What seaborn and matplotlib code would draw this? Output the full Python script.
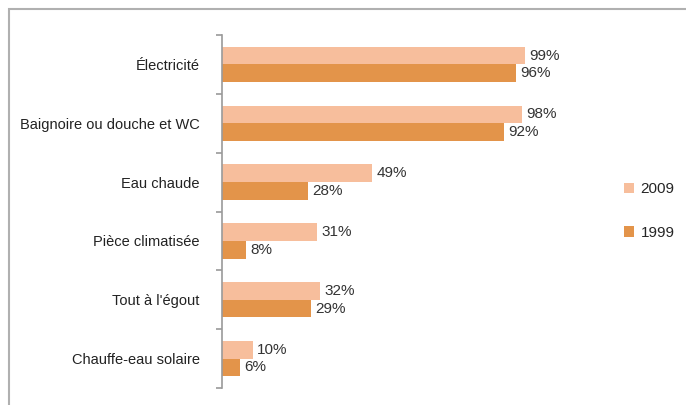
import pandas as pd
import seaborn as sns
import matplotlib.pyplot as plt
from matplotlib.patches import Rectangle, Patch
from matplotlib.ticker import FixedLocator

# --- Données ---
categories = ["Électricité", "Baignoire ou douche et WC", "Eau chaude",
              "Pièce climatisée", "Tout à l'égout", "Chauffe-eau solaire"]
valeurs_2009 = [99, 98, 49, 31, 32, 10]
valeurs_1999 = [96, 92, 28, 8, 29, 6]
annees = ["2009", "1999"]
couleurs = ["#F7BE9C", "#E3944A"]

df = pd.DataFrame({
    "categorie": categories * 2,
    "annee": ["2009"] * len(categories) + ["1999"] * len(categories),
    "valeur": valeurs_2009 + valeurs_1999,
})

sns.set_style("white")
plt.rcParams["font.family"] = ["Liberation Sans", "DejaVu Sans"]

fig = plt.figure(figsize=(6.86, 4.05), dpi=100)
ax = fig.add_axes([222 / 686, 1 - 388 / 405, (620 - 222) / 686, (388 - 35) / 405])

sns.barplot(data=df, y="categorie", x="valeur", hue="annee", hue_order=annees,
            order=categories, palette=couleurs, orient="h", width=0.6,
            saturation=1, linewidth=0, ax=ax, legend=False)

for cont in ax.containers:
    ax.bar_label(cont, fmt="%d%%", padding=3, fontsize=11, color="#333333")

ax.set_xlim(0, 130)
ax.set_ylim(len(categories) - 0.5, -0.5)
ax.set_xlabel("")
ax.set_ylabel("")
ax.set_xticks([])
for s in ["top", "right", "bottom"]:
    ax.spines[s].set_visible(False)
ax.spines["left"].set_color("#9a9a9a")
ax.spines["left"].set_linewidth(1.2)
ax.tick_params(axis="y", which="major", length=0, pad=16, labelsize=10.5,
               labelcolor="#222222")
ax.yaxis.set_minor_locator(FixedLocator([i - 0.5 for i in range(len(categories) + 1)]))
ax.tick_params(axis="y", which="minor", length=4, width=1.2, color="#9a9a9a", left=True)

# --- Légende ---
handles = [Patch(facecolor=c, edgecolor="none") for c in couleurs]
fig.legend(handles, annees, loc="center left", bbox_to_anchor=(610 / 686, 1 - 211 / 405),
           frameon=False, fontsize=11, handlelength=0.7, handleheight=0.7,
           handletextpad=0.4, labelspacing=1.9)

# --- Cadre ---
fig.patches.append(Rectangle((9 / 686, -0.1), 1.2, 1 - 9 / 405 + 0.1,
                             transform=fig.transFigure, fill=False,
                             edgecolor="#b0b0b0", linewidth=1.5))

fig.savefig("out.png", dpi=100)
plt.close()
